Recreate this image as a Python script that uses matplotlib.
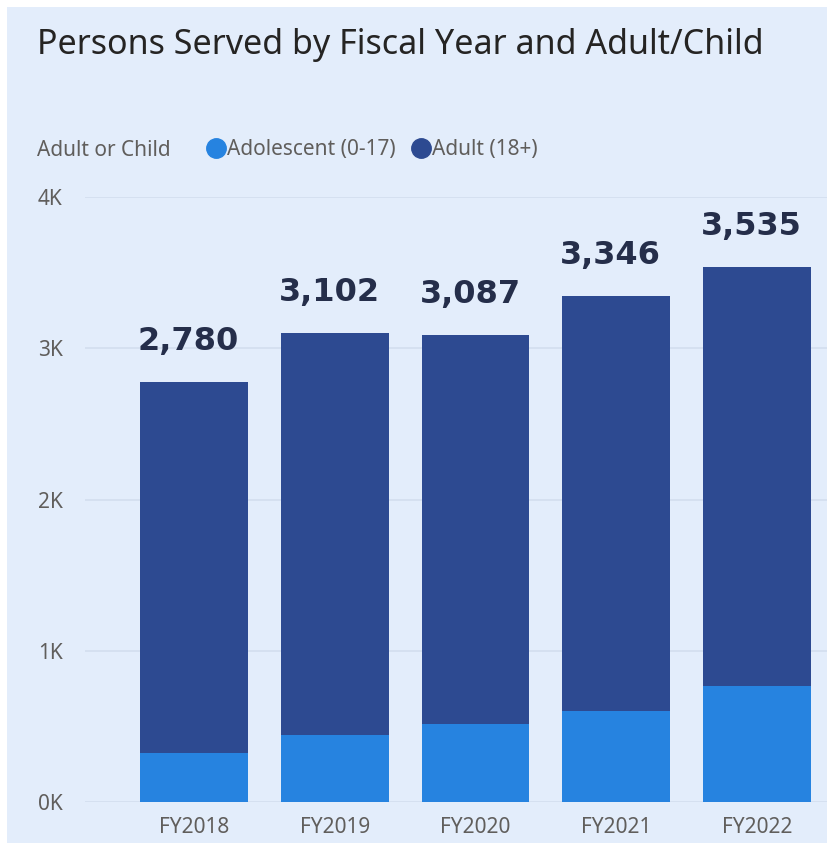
import matplotlib.pyplot as plt
from matplotlib.lines import Line2D
from matplotlib.patches import Rectangle

# data
years = ['FY2018', 'FY2019', 'FY2020', 'FY2021', 'FY2022']
totals = [2780, 3102, 3087, 3346, 3535]
adolescent = [327, 446, 514, 600, 766]
adult = [t - a for t, a in zip(totals, adolescent)]
y_ticks = [0, 1000, 2000, 3000, 4000]
y_labels = ['0K', '1K', '2K', '3K', '4K']

bg = '#e3edfb'
grid_col = '#d3deee'
c_adol = '#2683e0'
c_adult = '#2d4a91'
gray = '#605e5c'

fig = plt.figure(figsize=(8.28, 8.43), dpi=100)
fig.patch.set_facecolor('white')
# light panel behind everything (leaves a thin white edge top/left)
fig.patches.append(Rectangle((7 / 828, 0), 1, 1 - 7 / 843, transform=fig.transFigure,
                             facecolor=bg, edgecolor='none', zorder=-10))

ax = fig.add_axes([85 / 828, 41 / 843, 743 / 828, 605 / 843])
ax.set_facecolor(bg)
ax.patch.set_alpha(0)

x = list(range(len(years)))
w = 0.767
ax.bar(x, adolescent, width=w, color=c_adol, zorder=3)
ax.bar(x, adult, width=w, bottom=adolescent, color=c_adult, zorder=3)

for xi, t in zip(x, totals):
    ax.annotate(f'{t:,}', (xi, t), xytext=(-4, 18), textcoords='offset points',
                ha='center', va='bottom', fontsize=23, fontweight='bold',
                color='#252e4a', family='DejaVu Sans')

ax.set_xlim(-0.774, 4.504)
ax.set_ylim(0, 4000)
ax.set_yticks(y_ticks)
ax.set_yticklabels(y_labels)
ax.set_xticks(x)
ax.set_xticklabels(years)
ax.tick_params(axis='both', length=0, labelsize=15, labelcolor=gray)
ax.tick_params(axis='y', pad=16)
ax.tick_params(axis='x', pad=11)
for lab in ax.get_xticklabels() + ax.get_yticklabels():
    lab.set_family('Noto Sans')
ax.grid(axis='y', color=grid_col, linewidth=1.2, zorder=0)
for s in ax.spines.values():
    s.set_visible(False)

fig.text(37 / 828, 1 - 45 / 843, 'Persons Served by Fiscal Year and Adult/Child',
         fontsize=24.5, color='#252423', family='Noto Sans', va='center', ha='left')

fig.text(37 / 828, 1 - 150 / 843, 'Adult or Child', fontsize=15, color=gray,
         family='Noto Sans', fontweight='semibold', va='center', ha='left')
handles = [Line2D([], [], marker='o', linestyle='none', markersize=14, color=c_adol),
           Line2D([], [], marker='o', linestyle='none', markersize=14, color=c_adult)]
leg = fig.legend(handles, ['Adolescent (0-17)', 'Adult (18+)'], ncol=2,
                 loc='center left', bbox_to_anchor=(195 / 828, 1 - 150 / 843),
                 frameon=False, handletextpad=0.05, columnspacing=0.7,
                 handlelength=1.0, borderpad=0, prop={'family': 'Noto Sans', 'size': 15})
for t in leg.get_texts():
    t.set_color(gray)

fig.savefig('out.png', dpi=100, facecolor=fig.get_facecolor())
